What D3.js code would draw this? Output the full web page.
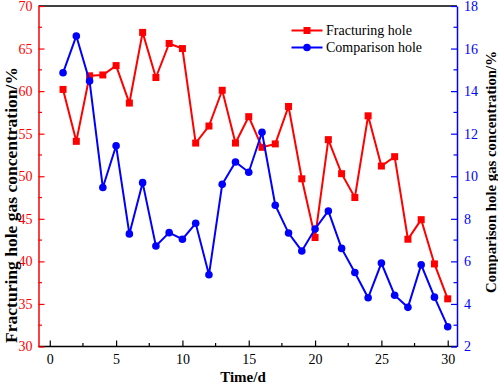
<!DOCTYPE html>
<html lang="en">
<meta charset="utf-8">
<head>
    <script src="https://d3js.org/d3.v7.min.js"></script>
<style>
  body { margin: 0; background: #fff; }
  text { font-family: "Liberation Serif", "Times New Roman", serif; }
</style>
</head>
<body>
</body>

<script>
var width = 498, height = 384;

// data
var days = d3.range(1, 31);
var fracturing = [60.2, 54.1, 61.8, 61.9, 63.0, 58.6, 66.9, 61.6, 65.6, 65.0,
                  53.9, 55.9, 60.1, 53.9, 57.0, 53.4, 53.8, 58.2, 49.7, 42.8,
                  54.3, 50.3, 47.5, 57.1, 51.2, 52.3, 42.6, 44.9, 39.7, 35.6];
var comparison = [14.86, 16.59, 14.47, 9.47, 11.43, 7.29, 9.70, 6.72, 7.35, 7.04,
                  7.79, 5.37, 9.62, 10.67, 10.19, 12.07, 8.64, 7.33, 6.49, 7.52,
                  8.37, 6.61, 5.48, 4.29, 5.92, 4.41, 3.84, 5.84, 4.32, 2.93];
var xTicks = [0, 5, 10, 15, 20, 25, 30];
var leftTicks = [30, 35, 40, 45, 50, 55, 60, 65, 70];
var rightTicks = [2, 4, 6, 8, 10, 12, 14, 16, 18];
var seriesNames = ["Fracturing hole", "Comparison hole"];

var margin = {left: 38.5, right: 498 - 457, top: 6, bottom: 384 - 346.5};
var svg = d3.select('body').append('svg').attr('width', width).attr('height', height);

var x = d3.scaleLinear().domain([-0.85, 30.7]).range([margin.left, width - margin.right]);
var yL = d3.scaleLinear().domain([30, 70]).range([height - margin.bottom, margin.top]);
var yR = d3.scaleLinear().domain([2, 18]).range([height - margin.bottom, margin.top]);

var red = '#ff0000', blue = '#0000ff';

// top border
svg.append('line')
    .attr('x1', margin.left).attr('x2', width - margin.right)
    .attr('y1', margin.top).attr('y2', margin.top)
    .attr('stroke', '#000').attr('stroke-width', 1.3);

// bottom axis (ticks point inward)
var gx = svg.append('g').attr('transform', 'translate(0,' + (height - margin.bottom) + ')');
gx.call(d3.axisBottom(x).tickValues(xTicks).tickSizeInner(-6).tickSizeOuter(0).tickPadding(8));
d3.range(2.5, 30, 5).forEach(function(v) {
    gx.append('line').attr('x1', x(v)).attr('x2', x(v)).attr('y1', 0).attr('y2', -3.5)
      .attr('stroke', '#000').attr('stroke-width', 1.2);
});
gx.select('.domain').attr('stroke', '#000').attr('stroke-width', 1.3)
  .attr('d', 'M' + margin.left + ',0H' + (width - margin.right));
gx.selectAll('.tick line').attr('stroke', '#000').attr('stroke-width', 1.2);
gx.selectAll('.tick text').attr('fill', '#000').style('font-size', '14px');

// left axis
var gl = svg.append('g').attr('transform', 'translate(' + margin.left + ',0)');
gl.call(d3.axisLeft(yL).tickValues(leftTicks).tickSizeInner(-6).tickSizeOuter(0).tickPadding(6));
d3.range(32.5, 70, 5).forEach(function(v) {
    gl.append('line').attr('x1', 0).attr('x2', 3.5).attr('y1', yL(v)).attr('y2', yL(v))
      .attr('stroke', red).attr('stroke-width', 1.2);
});
gl.select('.domain').attr('stroke', red).attr('stroke-width', 1.5);
gl.selectAll('.tick line').attr('stroke', red).attr('stroke-width', 1.2);
gl.selectAll('.tick text').attr('fill', red).style('font-size', '14px');

// right axis
var gr = svg.append('g').attr('transform', 'translate(' + (width - margin.right) + ',0)');
gr.call(d3.axisRight(yR).tickValues(rightTicks).tickSizeInner(-6).tickSizeOuter(0).tickPadding(7));
d3.range(3, 18, 2).forEach(function(v) {
    gr.append('line').attr('x1', 0).attr('x2', -3.5).attr('y1', yR(v)).attr('y2', yR(v))
      .attr('stroke', blue).attr('stroke-width', 1.2);
});
gr.select('.domain').attr('stroke', blue).attr('stroke-width', 1.5);
gr.selectAll('.tick line').attr('stroke', blue).attr('stroke-width', 1.2);
gr.selectAll('.tick text').attr('fill', blue).style('font-size', '14px');

// axis titles
svg.append('text').attr('x', 243).attr('y', 382)
    .attr('text-anchor', 'middle').style('font-size', '15px').style('font-weight', 'bold')
    .text('Time/d');

function fitTitle(sel, len) {
    var w = sel.node().getComputedTextLength();
    sel.style('font-size', (16 * len / w) + 'px');
}
var tl = svg.append('text').attr('transform', 'translate(17,205) rotate(-90)')
    .attr('text-anchor', 'middle').style('font-size', '16px').style('font-weight', 'bold')
    .text('Fracturing hole gas concentration/%');
fitTitle(tl, 276);
var tr = svg.append('text').attr('transform', 'translate(496,172) rotate(-90)')
    .attr('text-anchor', 'middle').style('font-size', '16px').style('font-weight', 'bold')
    .text('Comparison hole gas concentration/%');
fitTitle(tr, 242);

// series
var lineL = d3.line().x((d, i) => x(days[i])).y(d => yL(d));
var lineR = d3.line().x((d, i) => x(days[i])).y(d => yR(d));

svg.append('path').datum(fracturing).attr('d', lineL)
    .attr('fill', 'none').attr('stroke', red).attr('stroke-width', 2);
svg.selectAll('rect.frac').data(fracturing).join('rect').attr('class', 'frac')
    .attr('x', (d, i) => x(days[i]) - 3.5).attr('y', d => yL(d) - 3.5)
    .attr('width', 7).attr('height', 7).attr('fill', red);

svg.append('path').datum(comparison).attr('d', lineR)
    .attr('fill', 'none').attr('stroke', blue).attr('stroke-width', 2);
svg.selectAll('circle.comp').data(comparison).join('circle').attr('class', 'comp')
    .attr('cx', (d, i) => x(days[i])).attr('cy', d => yR(d))
    .attr('r', 3.8).attr('fill', blue);

// legend
var leg = svg.append('g');
seriesNames.forEach(function(name, i) {
    var ly = 30.5 + i * 17;
    var col = i == 0 ? red : blue;
    leg.append('line').attr('x1', 291.5).attr('x2', 322.5).attr('y1', ly).attr('y2', ly)
        .attr('stroke', col).attr('stroke-width', 2);
    if (i == 0) {
        leg.append('rect').attr('x', 307 - 3.5).attr('y', ly - 3.5).attr('width', 7).attr('height', 7).attr('fill', col);
    } else {
        leg.append('circle').attr('cx', 307).attr('cy', ly).attr('r', 3.8).attr('fill', col);
    }
    leg.append('text').attr('x', 326).attr('y', ly + 4.5).style('font-size', '14px')
        .attr('fill', '#000').text(name);
});
</script>
</html>
